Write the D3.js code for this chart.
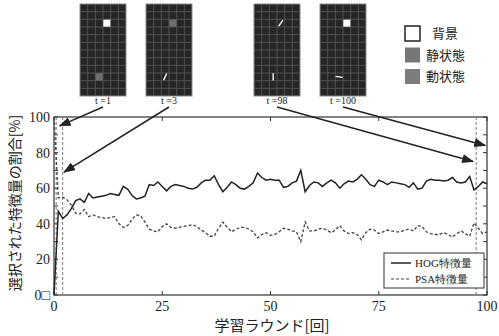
<!DOCTYPE html>
<html>
<head>
<meta charset="utf-8">
<script src="https://cdn.jsdelivr.net/npm/d3@7"></script>
<style>
  body { margin: 0; background: #fff; }
  svg { display: block; }
</style>
</head>
<body>
<div id="chart"></div>
<script>
// DATA
var hogValues = [0, 47, 43, 45, 48.5, 53, 54, 52, 57, 54.5,
  55, 55.5, 56, 57, 56.5, 56, 61, 59.5, 56, 54,
  54.5, 55.5, 62, 61.5, 63.5, 61, 58.5, 61, 62, 61.5,
  61, 60, 59.5, 60.5, 63, 64.5, 64.5, 67, 62, 58,
  60.5, 63.5, 62, 60, 59.5, 61, 63, 68.5, 66, 64.5,
  65, 64.5, 64.5, 60.5, 61, 63, 64, 70, 58, 61.5,
  63.5, 63, 61, 63, 64.5, 63, 60, 62.5, 64, 63.5,
  65, 67.5, 65, 62, 61, 64.5, 63.5, 62, 63.5, 63,
  62.5, 62, 60.5, 63, 59.5, 60, 64, 65, 64.5, 64.5,
  64, 64.5, 66, 63.5, 63, 63.5, 66.5, 59, 61, 63.5,
  62.5];
var psaValues = [100, 54.5, 55, 53.5, 50.5, 46, 45.5, 48, 44, 45,
  44, 43.5, 43, 43.5, 44, 40, 38, 39, 42.5, 45,
  44.5, 41, 37, 36, 35.5, 38.5, 40, 38, 37.5, 38,
  38.5, 39, 39.5, 38.5, 36.5, 35, 33, 33, 37.5, 41,
  38, 35.5, 37, 38, 38, 37, 35.5, 32, 34, 35,
  33.5, 34, 35.5, 37.5, 37, 36, 35.5, 30, 41, 36,
  36, 37, 37.5, 36.5, 35, 36.5, 39, 36, 34.5, 35,
  34, 31, 35, 37, 36.5, 34.5, 35.5, 36.5, 36, 35.5,
  35.5, 36.5, 37, 36, 39, 38.5, 35.5, 34.5, 34, 34,
  35, 34, 32.5, 34.5, 36, 34.5, 33, 40.5, 37.5, 34.5,
  35.5];
var xTicks = [0, 25, 50, 75, 100];
var yTickLabels = ['0\u25a1', '20', '40', '60', '80', '100'];
var seriesNames = ['HOG特徴量', 'PSA特徴量'];
var markerRounds = [0.5, 2, 97.5];
var snapshotLabels = ['t=1', 't=3', 't=98', 't=100'];
var arrowTargets = [[1.3, 95], [2.3, 69], [96.8, 75], [99.6, 84]];
// marks in each snapshot: [col, row, kind, angle]
var snapshotMarks = [
  [[3, 2, 'bg'], [2, 9, 'static']],
  [[3, 2, 'static'], [2, 9, 'line', -65]],
  [[3, 2, 'line', -55], [2, 9, 'line', 90]],
  [[3, 2, 'bg'], [2, 9, 'line', 8]]
];
var stateLabels = ['背景', '静状態', '動状態'];

// LAYOUT
var width = 499, height = 336;
var plot = {left: 54, right: 487, top: 117, bottom: 295};
var serif = '"Liberation Serif", "DejaVu Serif", serif';
var jp = '"Noto Sans CJK JP", sans-serif';

var svg = d3.select('#chart').append('svg')
  .attr('width', width).attr('height', height);

var defs = svg.append('defs');
defs.append('marker').attr('id', 'ah')
  .attr('markerUnits', 'userSpaceOnUse')
  .attr('markerWidth', 12).attr('markerHeight', 10)
  .attr('refX', 11).attr('refY', 4.5).attr('orient', 'auto')
  .append('path').attr('d', 'M0,0 L12,4.5 L0,9 z').attr('fill', '#222');

var x = d3.scaleLinear().domain([0, 100]).range([plot.left, plot.right]);
var y = d3.scaleLinear().domain([0, 100]).range([plot.bottom, plot.top]);

// frame
svg.append('rect')
  .attr('x', plot.left).attr('y', plot.top)
  .attr('width', plot.right - plot.left).attr('height', plot.bottom - plot.top)
  .attr('fill', 'none').attr('stroke', '#333').attr('stroke-width', 1.2);

// inward ticks
var yMinor = d3.range(0, 101, 10);
svg.selectAll('.ytl').data(yMinor).enter().append('line')
  .attr('x1', plot.left).attr('x2', plot.left + 4)
  .attr('y1', function(d){return y(d);}).attr('y2', function(d){return y(d);})
  .attr('stroke', '#333');
svg.selectAll('.ytr').data(yMinor).enter().append('line')
  .attr('x1', plot.right).attr('x2', plot.right - 4)
  .attr('y1', function(d){return y(d);}).attr('y2', function(d){return y(d);})
  .attr('stroke', '#333');
svg.selectAll('.xtb').data(xTicks).enter().append('line')
  .attr('x1', function(d){return x(d);}).attr('x2', function(d){return x(d);})
  .attr('y1', plot.bottom).attr('y2', plot.bottom - 4).attr('stroke', '#333');
svg.selectAll('.xtt').data(xTicks).enter().append('line')
  .attr('x1', function(d){return x(d);}).attr('x2', function(d){return x(d);})
  .attr('y1', plot.top).attr('y2', plot.top + 4).attr('stroke', '#333');

// tick labels
svg.selectAll('.yl').data(yTickLabels).enter().append('text')
  .attr('x', 50).attr('y', function(d, i){return y(i * 20) + 5;})
  .attr('text-anchor', 'end')
  .style('font-family', serif).style('font-size', '14px').attr('fill', '#222')
  .text(function(d){return d;});
svg.selectAll('.xl').data(xTicks).enter().append('text')
  .attr('x', function(d){return x(d);}).attr('y', plot.bottom + 16)
  .attr('text-anchor', 'middle')
  .style('font-family', serif).style('font-size', '14px').attr('fill', '#222')
  .text(function(d){return d;});

// marker lines
svg.selectAll('.mk').data(markerRounds).enter().append('line')
  .attr('x1', function(d){return x(d);}).attr('x2', function(d){return x(d);})
  .attr('y1', plot.top).attr('y2', plot.bottom)
  .attr('stroke', '#777').attr('stroke-width', 1).attr('stroke-dasharray', '3,2');

// series
var line = d3.line().x(function(d, i){return x(i);}).y(function(d){return y(d);});
svg.append('path').datum(hogValues).attr('d', line)
  .attr('fill', 'none').attr('stroke', '#222').attr('stroke-width', 1.5);
svg.append('path').datum(psaValues).attr('d', line)
  .attr('fill', 'none').attr('stroke', '#444').attr('stroke-width', 1.3)
  .attr('stroke-dasharray', '3,2');

// legend
var lg = svg.append('g').attr('transform', 'translate(384,253)');
lg.append('rect').attr('width', 100).attr('height', 35)
  .attr('fill', '#fff').attr('stroke', '#333').attr('stroke-width', 1);
seriesNames.forEach(function(name, i) {
  var yy = 10 + i * 16;
  lg.append('line').attr('x1', 7).attr('x2', 27).attr('y1', yy).attr('y2', yy)
    .attr('stroke', i ? '#444' : '#222').attr('stroke-width', i ? 1.2 : 1.5)
    .attr('stroke-dasharray', i ? '3,2' : null);
  lg.append('text').attr('x', 31).attr('y', yy + 4)
    .style('font-family', serif).style('font-size', '11px').attr('fill', '#222')
    .text(name);
});

// axis titles
svg.append('text').attr('x', 272).attr('y', 331).attr('text-anchor', 'middle')
  .style('font-family', jp).style('font-size', '15px').attr('fill', '#222')
  .text('学習ラウンド[回]');
svg.append('text').attr('transform', 'translate(20,203) rotate(-90)')
  .attr('text-anchor', 'middle')
  .style('font-family', jp).style('font-size', '14px').attr('fill', '#222')
  .text('選択された特徴量の割合[%]');

// snapshots
var panelLeft = [80, 146, 254, 320], panelTop = 4, pw = 46, ph = 92;
var cols = 6, rows = 12, cw = pw / cols, rh = ph / rows;
snapshotLabels.forEach(function(lab, p) {
  var g = svg.append('g').attr('transform', 'translate(' + panelLeft[p] + ',' + panelTop + ')');
  g.append('rect').attr('width', pw).attr('height', ph)
    .attr('fill', '#262626').attr('stroke', '#888').attr('stroke-width', 1);
  d3.range(1, cols).forEach(function(c) {
    g.append('line').attr('x1', c * cw).attr('x2', c * cw).attr('y1', 0).attr('y2', ph)
      .attr('stroke', '#5a5a5a').attr('stroke-width', 0.8);
  });
  d3.range(1, rows).forEach(function(r) {
    g.append('line').attr('y1', r * rh).attr('y2', r * rh).attr('x1', 0).attr('x2', pw)
      .attr('stroke', '#5a5a5a').attr('stroke-width', 0.8);
  });
  snapshotMarks[p].forEach(function(m) {
    var cx = (m[0] + 0.5) * cw, cy = (m[1] + 0.5) * rh;
    if (m[2] === 'bg') {
      g.append('rect').attr('x', cx - 3.5).attr('y', cy - 3.5).attr('width', 7).attr('height', 7)
        .attr('fill', '#fff');
    } else if (m[2] === 'static') {
      g.append('rect').attr('x', cx - 3.6).attr('y', cy - 3.6).attr('width', 7.2).attr('height', 7.2)
        .attr('fill', '#6e6e6e');
    } else {
      var a = m[3] * Math.PI / 180, r = 3.6;
      g.append('line')
        .attr('x1', cx - r * Math.cos(a)).attr('y1', cy - r * Math.sin(a))
        .attr('x2', cx + r * Math.cos(a)).attr('y2', cy + r * Math.sin(a))
        .attr('stroke', '#fff').attr('stroke-width', 1.4);
    }
  });
  var cxp = panelLeft[p] + pw / 2;
  svg.append('text').attr('x', cxp).attr('y', 104).attr('text-anchor', 'middle')
    .style('font-family', serif).style('font-size', '10px').attr('fill', '#222')
    .text(lab.replace('=', ' ='));
  svg.append('line').attr('x1', cxp).attr('y1', 107)
    .attr('x2', x(arrowTargets[p][0])).attr('y2', y(arrowTargets[p][1]))
    .attr('stroke', '#222').attr('stroke-width', 1.5).attr('marker-end', 'url(#ah)');
});

// state legend
var stateFill = ['#fff', '#777', '#7c7c7c'];
stateLabels.forEach(function(lab, i) {
  var yy = 26 + i * 21.5;
  svg.append('rect').attr('x', 405).attr('y', yy).attr('width', 15).attr('height', 15)
    .attr('fill', stateFill[i]).attr('stroke', i ? 'none' : '#222').attr('stroke-width', 1.5);
  svg.append('text').attr('x', i ? 426 : 432).attr('y', yy + 12)
    .style('font-family', jp).style('font-size', '13px').attr('fill', '#222')
    .text(lab);
});
</script>
</body>
</html>
